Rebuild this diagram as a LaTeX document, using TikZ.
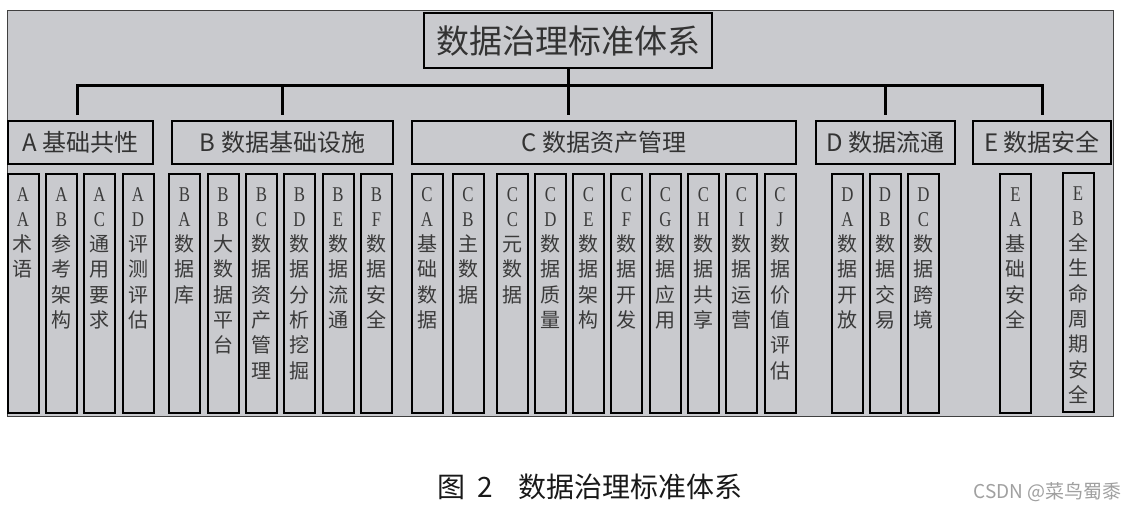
\documentclass[tikz,border=0pt]{standalone}
\usepackage{fontspec}
\setmainfont{Liberation Serif}
\newfontfamily\cjk{Noto Sans CJK SC}
\newfontfamily\lat[FakeStretch=0.8]{Liberation Serif}
\usetikzlibrary{calc}
\definecolor{panelgray}{HTML}{C9CACE}
\definecolor{textgray}{HTML}{333333}
\definecolor{leafgray}{HTML}{3A3A3A}
\definecolor{wmgray}{HTML}{A0A0A0}
\newcommand{\LL}[1]{{\lat\fontsize{21}{25.3}\selectfont #1}}
\newcommand{\leaftext}[1]{\parbox[c][225pt][t]{31pt}{\centering\cjk\fontsize{20}{25.3}\selectfont\rule{0pt}{20pt}#1}}
\tikzset{
  panel/.style={fill=panelgray, draw=black!75, line width=1pt},
  topbox/.style={draw=black, line width=2pt, fill=panelgray, minimum width=288pt, minimum height=55pt, inner sep=0pt, text=textgray, font=\cjk\fontsize{33}{36}\selectfont},
  catbox/.style={draw=black, line width=2pt, minimum height=43pt, inner sep=0pt, text=textgray, font=\cjk\fontsize{24}{28}\selectfont},
  leafbox/.style={draw=black, line width=2pt, minimum width=31pt, minimum height=239pt, inner sep=0pt, anchor=north, text=leafgray},
  bus/.style={draw=black, line width=3pt}
}
\begin{document}
\begin{tikzpicture}[x=1pt,y=-1pt]
\useasboundingbox (0,0) rectangle (1137,511);
\fill[white] (0,0) rectangle (1137,511);
\draw[panel] (7,11) rectangle (1113,416);

% title
\node[topbox] (title) at (568,40.5) {数据治理标准体系};

% categories
\node[catbox, minimum width=145pt] (A) at (80.5,142.5) {A 基础共性};
\node[catbox, minimum width=221pt] (B) at (282.5,142.5) {B 数据基础设施};
\node[catbox, minimum width=384pt] (C) at (604,142.5) {C 数据资产管理};
\node[catbox, minimum width=139pt] (D) at (885.5,142.5) {D 数据流通};
\node[catbox, minimum width=138pt] (E) at (1042,142.5) {E 数据安全};

% connectors
\coordinate (bus) at (570,85);
\draw[bus, shorten >=5pt] (title.south) -- (title.south |- C.north);
\draw[bus, shorten <=5pt, shorten >=5pt] ([xshift=-3.5pt]A.north) |- (bus) -| (E.north);
\draw[bus, shorten >=5pt] (B.north |- bus) -- (B.north);
\draw[bus, shorten >=5pt] (D.north |- bus) -- (D.north);

% leaves
\node[leafbox] (AA) at (23,173) {\leaftext{\LL{A}\\\LL{A}\\术\\语}};
\node[leafbox] (AB) at (61.5,173) {\leaftext{\LL{A}\\\LL{B}\\参\\考\\架\\构}};
\node[leafbox] (AC) at (99.5,173) {\leaftext{\LL{A}\\\LL{C}\\通\\用\\要\\求}};
\node[leafbox] (AD) at (138,173) {\leaftext{\LL{A}\\\LL{D}\\评\\测\\评\\估}};

\node[leafbox] (BA) at (184.5,173) {\leaftext{\LL{B}\\\LL{A}\\数\\据\\库}};
\node[leafbox] (BB) at (223,173) {\leaftext{\LL{B}\\\LL{B}\\大\\数\\据\\平\\台}};
\node[leafbox] (BC) at (261.5,173) {\leaftext{\LL{B}\\\LL{C}\\数\\据\\资\\产\\管\\理}};
\node[leafbox] (BD) at (299.5,173) {\leaftext{\LL{B}\\\LL{D}\\数\\据\\分\\析\\挖\\掘}};
\node[leafbox] (BE) at (338,173) {\leaftext{\LL{B}\\\LL{E}\\数\\据\\流\\通}};
\node[leafbox] (BF) at (376.5,173) {\leaftext{\LL{B}\\\LL{F}\\数\\据\\安\\全}};

\node[leafbox] (CA) at (427,173) {\leaftext{\LL{C}\\\LL{A}\\基\\础\\数\\据}};
\node[leafbox] (CB) at (468,173) {\leaftext{\LL{C}\\\LL{B}\\主\\数\\据}};
\node[leafbox] (CC) at (512.5,173) {\leaftext{\LL{C}\\\LL{C}\\元\\数\\据}};
\node[leafbox] (CD) at (550.5,173) {\leaftext{\LL{C}\\\LL{D}\\数\\据\\质\\量}};
\node[leafbox] (CE) at (588.5,173) {\leaftext{\LL{C}\\\LL{E}\\数\\据\\架\\构}};
\node[leafbox] (CF) at (626.5,173) {\leaftext{\LL{C}\\\LL{F}\\数\\据\\开\\发}};
\node[leafbox] (CG) at (665.5,173) {\leaftext{\LL{C}\\\LL{G}\\数\\据\\应\\用}};
\node[leafbox] (CH) at (703.5,173) {\leaftext{\LL{C}\\\LL{H}\\数\\据\\共\\享}};
\node[leafbox] (CI) at (741.5,173) {\leaftext{\LL{C}\\\LL{I}\\数\\据\\运\\营}};
\node[leafbox] (CJ) at (780,173) {\leaftext{\LL{C}\\\LL{J}\\数\\据\\价\\值\\评\\估}};

\node[leafbox] (DA) at (847.5,173) {\leaftext{\LL{D}\\\LL{A}\\数\\据\\开\\放}};
\node[leafbox] (DB) at (885,173) {\leaftext{\LL{D}\\\LL{B}\\数\\据\\交\\易}};
\node[leafbox] (DC) at (923.5,173) {\leaftext{\LL{D}\\\LL{C}\\数\\据\\跨\\境}};

\node[leafbox] (EA) at (1015.5,173) {\leaftext{\LL{E}\\\LL{A}\\基\\础\\安\\全}};
\node[leafbox] (EB) at (1078,172) {\leaftext{\LL{E}\\\LL{B}\\全\\生\\命\\周\\期\\安\\全}};

% caption
\node[anchor=west, inner sep=0pt, text=black!90, font=\cjk\fontsize{28}{30}\selectfont] (cap) at (437,487) {图\hspace{12pt}2\hspace{26pt}数据治理标准体系};
\node[anchor=east, inner sep=0pt, text=wmgray, font=\cjk\fontsize{19}{21}\selectfont] (wm) at (1122,492) {CSDN @菜鸟蜀黍};
\end{tikzpicture}
\end{document}
